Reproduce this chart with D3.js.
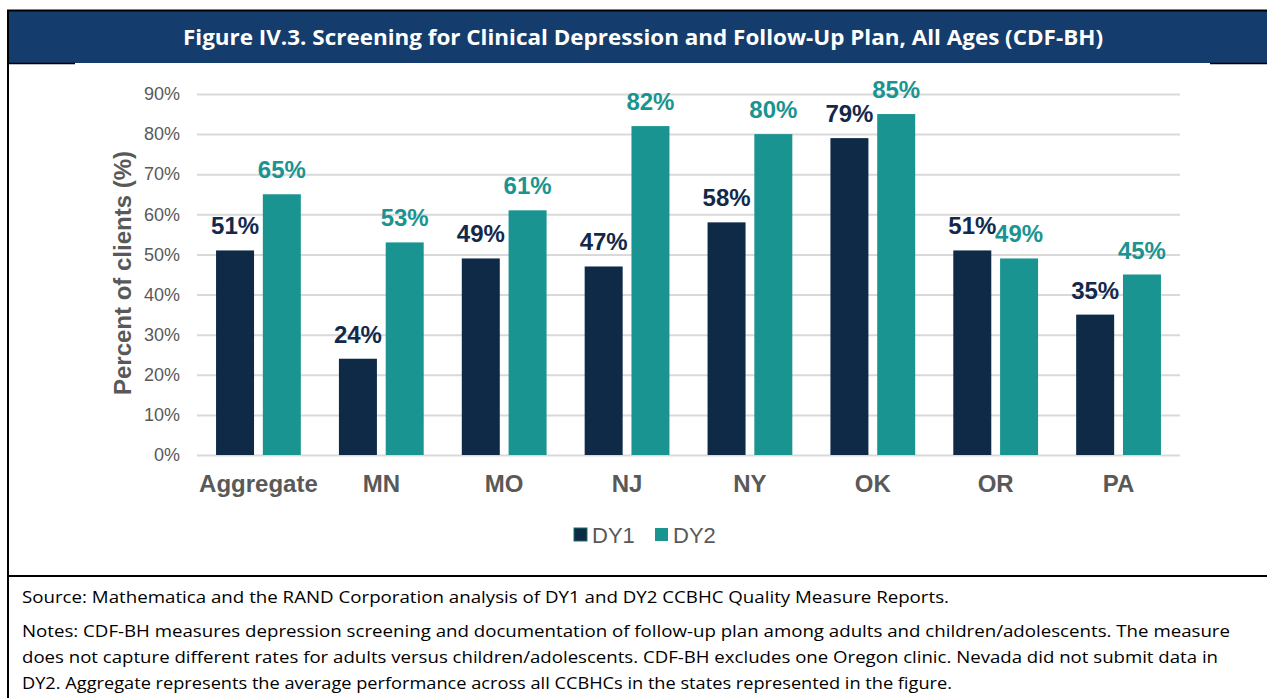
<!DOCTYPE html>
<html>
<head>
<meta charset="utf-8">
<script src="https://cdn.jsdelivr.net/npm/d3@7"></script>
<style>
    body { margin: 0; background: #fff; }
    svg { display: block; }
</style>
</head>
<body>
<div id="chart"></div>
<script>
const categories = ['Aggregate', 'MN', 'MO', 'NJ', 'NY', 'OK', 'OR', 'PA']
const seriesNames = ['DY1', 'DY2']
const dy1Values = [0.51, 0.24, 0.49, 0.47, 0.58, 0.79, 0.51, 0.35]
const dy2Values = [0.65, 0.53, 0.61, 0.82, 0.80, 0.85, 0.49, 0.45]
const yTicks = [0, 0.1, 0.2, 0.3, 0.4, 0.5, 0.6, 0.7, 0.8, 0.9]
const titleText = 'Figure IV.3. Screening for Clinical Depression and Follow-Up Plan, All Ages (CDF-BH)'
const sourceText = 'Source:  Mathematica and the RAND Corporation analysis of DY1 and DY2 CCBHC Quality Measure Reports.'
const notesLines = [
    'Notes:  CDF-BH measures depression screening and documentation of follow-up plan among adults and children/adolescents. The measure',
    'does not capture different rates for adults versus children/adolescents. CDF-BH excludes one Oregon clinic. Nevada did not submit data in',
    'DY2. Aggregate represents the average performance across all CCBHCs in the states represented in the figure.'
]

const W = 1267
const H = 698
const colors = { DY1: '#0e2a47', DY2: '#1a9490' }
const labelColors = { DY1: '#13294b', DY2: '#1a9490' }
const axisGray = '#595959'
const arial = '\'Liberation Sans\', Arial, sans-serif'
const calibri = '\'Open Sans\', sans-serif'

const rows = categories.map((c, i) => ({ cat: c, DY1: dy1Values[i], DY2: dy2Values[i] }))

const svg = d3.select('#chart').append('svg')
    .attr('width', W)
    .attr('height', H)

// frame
svg.append('rect').attr('x', 7).attr('y', 11).attr('width', W - 7).attr('height', 52).attr('fill', '#143c6c')
svg.append('line').attr('x1', 7).attr('x2', W).attr('y1', 10.5).attr('y2', 10.5).attr('stroke', '#000').attr('stroke-width', 2)
svg.append('line').attr('x1', 8).attr('x2', 8).attr('y1', 10).attr('y2', H).attr('stroke', '#000').attr('stroke-width', 2)
svg.append('line').attr('x1', 7).attr('x2', 75).attr('y1', 63.5).attr('y2', 63.5).attr('stroke', '#000').attr('stroke-width', 1.5)
svg.append('line').attr('x1', 1210).attr('x2', W).attr('y1', 63.5).attr('y2', 63.5).attr('stroke', '#000').attr('stroke-width', 1.5)
svg.append('line').attr('x1', 7).attr('x2', W).attr('y1', 576).attr('y2', 576).attr('stroke', '#000').attr('stroke-width', 2)

svg.append('text')
    .attr('x', 643)
    .attr('y', 45)
    .attr('text-anchor', 'middle')
    .attr('fill', '#fff')
    .attr('font-family', calibri)
    .attr('font-weight', 'bold')
    .attr('font-size', 22)
    .attr('textLength', 920)
    .attr('lengthAdjust', 'spacingAndGlyphs')
    .text(titleText)

// scales
const x0 = d3.scaleBand()
    .domain(categories)
    .range([197, 1180])
    .paddingInner(0.31)
    .paddingOuter(0.155)

const x1 = d3.scaleBand()
    .domain(seriesNames)
    .range([0, x0.bandwidth()])
    .paddingInner(0.188)

const y = d3.scaleLinear()
    .domain([0, 0.9])
    .range([455, 94])

// y axis + grid
const yAxis = svg.append('g')
    .attr('transform', 'translate(197,0)')
    .call(d3.axisLeft(y).tickValues(yTicks).tickFormat(d3.format('.0%')).tickSize(-983).tickPadding(17))
yAxis.select('.domain').remove()
yAxis.selectAll('.tick line').attr('stroke', '#d9d9d9').attr('stroke-width', 2)
yAxis.selectAll('.tick text')
    .attr('fill', axisGray)
    .attr('font-family', arial)
    .attr('font-size', 18)

// x axis
const xAxis = svg.append('g')
    .attr('transform', 'translate(0,455)')
    .call(d3.axisBottom(x0).tickSize(0).tickPadding(20))
xAxis.select('.domain').remove()
xAxis.selectAll('.tick text')
    .attr('fill', axisGray)
    .attr('font-family', arial)
    .attr('font-weight', 'bold')
    .attr('font-size', 24)

// y title
svg.append('text')
    .attr('transform', 'translate(131,273) rotate(-90)')
    .attr('text-anchor', 'middle')
    .attr('fill', axisGray)
    .attr('font-family', arial)
    .attr('font-weight', 'bold')
    .attr('font-size', 24)
    .text('Percent of clients (%)')

// bars
const groups = svg.selectAll('g.group').data(rows).enter()
    .append('g')
    .attr('class', 'group')
    .attr('transform', d => `translate(${x0(d.cat)},0)`)

groups.selectAll('rect')
    .data(d => seriesNames.map(s => ({ key: s, value: d[s] })))
    .enter().append('rect')
    .attr('x', d => x1(d.key))
    .attr('y', d => y(d.value))
    .attr('width', x1.bandwidth())
    .attr('height', d => y(0) - y(d.value))
    .attr('fill', d => colors[d.key])

groups.selectAll('text')
    .data(d => seriesNames.map(s => ({ key: s, value: d[s] })))
    .enter().append('text')
    .attr('x', d => x1(d.key) + x1.bandwidth() / 2)
    .attr('y', d => y(d.value) - 16)
    .attr('text-anchor', 'middle')
    .attr('fill', d => labelColors[d.key])
    .attr('font-family', arial)
    .attr('font-weight', 'bold')
    .attr('font-size', 24)
    .text(d => d3.format('.0%')(d.value))

// legend
const legendX = [574, 655]
const legend = svg.selectAll('g.legend').data(seriesNames).enter()
    .append('g')
    .attr('class', 'legend')
    .attr('transform', (d, i) => `translate(${legendX[i]},528)`)
legend.append('rect')
    .attr('width', 13)
    .attr('height', 13)
    .attr('fill', d => colors[d])
    .attr('stroke', d => d === 'DY1' ? '#1f6f6a' : 'none')
    .attr('stroke-width', 1)
legend.append('text')
    .attr('x', 18)
    .attr('y', 15)
    .attr('fill', axisGray)
    .attr('font-family', arial)
    .attr('font-size', 22)
    .text(d => d)

// footer
const footer = svg.append('g')
    .attr('font-family', calibri)
    .attr('font-size', 16)
    .attr('fill', '#000')
    .style('white-space', 'pre')
footer.append('text')
    .attr('x', 22)
    .attr('y', 603)
    .attr('textLength', 927)
    .attr('lengthAdjust', 'spacingAndGlyphs')
    .text(sourceText)

const notesEnds = [1230, 1218, 952]
footer.selectAll('text.note').data(notesLines).enter()
    .append('text')
    .attr('class', 'note')
    .attr('x', 22)
    .attr('y', (d, i) => 637 + i * 26)
    .attr('textLength', (d, i) => notesEnds[i] - 22)
    .attr('lengthAdjust', 'spacingAndGlyphs')
    .text(d => d)
</script>
</body>
</html>
